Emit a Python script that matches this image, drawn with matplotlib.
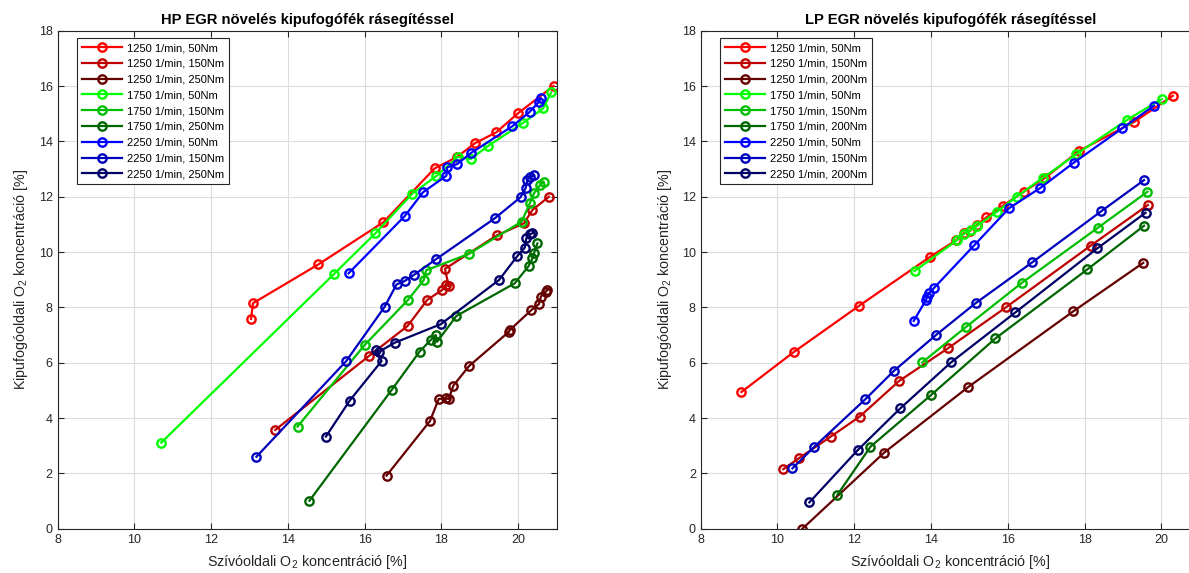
import matplotlib
matplotlib.use('Agg')
import matplotlib.pyplot as plt

plt.rcParams['font.family'] = ['Liberation Sans', 'DejaVu Sans']
plt.rcParams['mathtext.fontset'] = 'custom'
plt.rcParams['mathtext.rm'] = 'Liberation Sans'
plt.rcParams['mathtext.default'] = 'regular'

# ---------------- data: HP EGR (left) ----------------
hp_1250_50_x = [13.04, 13.09, 14.79, 16.49, 17.82, 18.41, 18.87, 19.43, 19.99, 20.92]
hp_1250_50_y = [7.58, 8.15, 9.55, 11.08, 13.02, 13.44, 13.93, 14.33, 15.01, 16.0]
hp_1250_150_x = [13.67, 16.11, 17.12, 17.63, 18.02, 18.11, 18.19, 18.09, 19.44, 20.15, 20.37, 20.80]
hp_1250_150_y = [3.57, 6.24, 7.33, 8.27, 8.63, 8.80, 8.77, 9.39, 10.60, 11.04, 11.52, 12.0]
hp_1250_250_x = [16.57, 17.70, 17.93, 18.11, 18.19, 18.31, 18.72, 19.76, 19.78, 20.34, 20.54, 20.59, 20.72, 20.76]
hp_1250_250_y = [1.92, 3.89, 4.69, 4.71, 4.69, 5.17, 5.88, 7.12, 7.18, 7.90, 8.12, 8.39, 8.57, 8.63]
hp_1750_50_x = [10.70, 15.19, 16.28, 17.24, 17.87, 18.43, 18.76, 19.21, 20.13, 20.65, 20.86]
hp_1750_50_y = [3.11, 9.19, 10.68, 12.11, 12.75, 13.44, 13.36, 13.83, 14.67, 15.19, 15.77]
hp_1750_150_x = [14.25, 16.00, 17.13, 17.54, 17.60, 18.71, 20.09, 20.30, 20.41, 20.57, 20.66]
hp_1750_150_y = [3.69, 6.64, 8.27, 8.99, 9.34, 9.93, 11.10, 11.76, 12.12, 12.42, 12.54]
hp_1750_250_x = [14.56, 16.70, 17.43, 17.72, 17.85, 17.89, 18.39, 19.91, 20.27, 20.37, 20.41, 20.50]
hp_1750_250_y = [1.01, 5.01, 6.40, 6.82, 7.00, 6.76, 7.69, 8.87, 9.49, 9.77, 9.95, 10.31]
hp_2250_50_x = [15.58, 17.05, 17.52, 18.13, 18.15, 18.41, 18.76, 19.85, 20.30, 20.54, 20.59]
hp_2250_50_y = [9.23, 11.31, 12.16, 12.76, 13.06, 13.18, 13.57, 14.55, 15.07, 15.43, 15.55]
hp_2250_150_x = [13.18, 15.52, 16.52, 16.83, 17.04, 17.28, 17.87, 19.39, 20.06, 20.19, 20.24, 20.31, 20.41]
hp_2250_150_y = [2.60, 6.06, 8.02, 8.83, 8.95, 9.17, 9.75, 11.22, 11.98, 12.30, 12.60, 12.70, 12.78]
hp_2250_250_x = [14.99, 15.61, 16.44, 16.30, 16.38, 16.78, 17.98, 19.50, 19.98, 20.17, 20.21, 20.30, 20.37]
hp_2250_250_y = [3.33, 4.63, 6.06, 6.45, 6.40, 6.72, 7.39, 8.99, 9.86, 10.16, 10.49, 10.64, 10.68]

# ---------------- data: LP EGR (right) ----------------
lp_1250_50_x = [9.06, 10.42, 12.13, 13.98, 14.66, 14.85, 15.01, 15.20, 15.44, 15.87, 16.42, 16.98, 17.85, 19.30, 20.30]
lp_1250_50_y = [4.94, 6.38, 8.06, 9.83, 10.43, 10.68, 10.76, 10.98, 11.25, 11.67, 12.18, 12.69, 13.65, 14.71, 15.65]
lp_1250_150_x = [10.15, 10.55, 11.39, 12.14, 13.17, 14.44, 15.95, 18.16, 19.65]
lp_1250_150_y = [2.15, 2.54, 3.33, 4.05, 5.34, 6.52, 8.00, 10.23, 11.70]
lp_1250_200_x = [10.65, 12.78, 14.96, 17.71, 19.53]
lp_1250_200_y = [0.0, 2.75, 5.11, 7.86, 9.61]
lp_1750_50_x = [13.57, 14.68, 14.85, 15.03, 15.20, 15.72, 16.23, 16.92, 17.78, 19.10, 20.01]
lp_1750_50_y = [9.31, 10.43, 10.65, 10.79, 10.95, 11.46, 12.00, 12.69, 13.53, 14.77, 15.53]
lp_1750_150_x = [13.77, 14.91, 16.37, 18.35, 19.64]
lp_1750_150_y = [6.01, 7.29, 8.89, 10.88, 12.18]
lp_1750_200_x = [11.56, 12.42, 14.00, 15.68, 18.07, 19.55]
lp_1750_200_y = [1.22, 2.96, 4.83, 6.88, 9.37, 10.95]
lp_2250_50_x = [13.55, 13.87, 13.90, 13.94, 14.07, 15.13, 16.03, 16.85, 17.72, 18.98, 19.81]
lp_2250_50_y = [7.51, 8.27, 8.39, 8.51, 8.69, 10.25, 11.58, 12.32, 13.23, 14.47, 15.29]
lp_2250_150_x = [10.39, 10.96, 12.29, 13.03, 14.13, 15.16, 16.64, 18.44, 19.55]
lp_2250_150_y = [2.18, 2.96, 4.68, 5.70, 7.00, 8.15, 9.63, 11.48, 12.60]
lp_2250_200_x = [10.83, 12.09, 13.20, 14.52, 16.20, 18.33, 19.59]
lp_2250_200_y = [0.95, 2.84, 4.35, 6.01, 7.82, 10.13, 11.42]

hp_labels = ['1250 1/min, 50Nm', '1250 1/min, 150Nm', '1250 1/min, 250Nm',
             '1750 1/min, 50Nm', '1750 1/min, 150Nm', '1750 1/min, 250Nm',
             '2250 1/min, 50Nm', '2250 1/min, 150Nm', '2250 1/min, 250Nm']
lp_labels = ['1250 1/min, 50Nm', '1250 1/min, 150Nm', '1250 1/min, 200Nm',
             '1750 1/min, 50Nm', '1750 1/min, 150Nm', '1750 1/min, 200Nm',
             '2250 1/min, 50Nm', '2250 1/min, 150Nm', '2250 1/min, 200Nm']
colors = ['#FF0000', '#BF0000', '#660000',
          '#00FF00', '#00BF00', '#006600',
          '#0000FF', '#0000BF', '#000066']

hp_series = [(hp_1250_50_x, hp_1250_50_y), (hp_1250_150_x, hp_1250_150_y), (hp_1250_250_x, hp_1250_250_y),
             (hp_1750_50_x, hp_1750_50_y), (hp_1750_150_x, hp_1750_150_y), (hp_1750_250_x, hp_1750_250_y),
             (hp_2250_50_x, hp_2250_50_y), (hp_2250_150_x, hp_2250_150_y), (hp_2250_250_x, hp_2250_250_y)]
lp_series = [(lp_1250_50_x, lp_1250_50_y), (lp_1250_150_x, lp_1250_150_y), (lp_1250_200_x, lp_1250_200_y),
             (lp_1750_50_x, lp_1750_50_y), (lp_1750_150_x, lp_1750_150_y), (lp_1750_200_x, lp_1750_200_y),
             (lp_2250_50_x, lp_2250_50_y), (lp_2250_150_x, lp_2250_150_y), (lp_2250_200_x, lp_2250_200_y)]

titles = ['HP EGR növelés kipufogófék rásegítéssel', 'LP EGR növelés kipufogófék rásegítéssel']

W, H = 1189, 573
fig = plt.figure(figsize=(W / 100, H / 100), dpi=100)
ax_w, ax_h = 499.0, 498.0
ax1 = fig.add_axes([57.6 / W, 44.3 / H, ax_w / W, ax_h / H])
ax2 = fig.add_axes([700.7 / W, 44.3 / H, ax_w / W, ax_h / H])

tc = '#262626'
for ax, series, labels, title in [(ax1, hp_series, hp_labels, titles[0]),
                                  (ax2, lp_series, lp_labels, titles[1])]:
    for (x, y), c, lab in zip(series, colors, labels):
        ax.plot(x, y, '-o', color=c, lw=1.6, ms=6, mfc='none', mew=1.7, label=lab)
    ax.set_xlim(8, 21)
    ax.set_ylim(0, 18)
    ax.set_xticks(range(8, 21, 2))
    ax.set_yticks(range(0, 19, 2))
    ax.grid(True, color='#dcdcdc', lw=0.8)
    ax.set_axisbelow(True)
    ax.tick_params(direction='in', top=True, right=True, length=4, width=0.8,
                   colors=tc, labelsize=9)
    for s in ax.spines.values():
        s.set_color(tc)
        s.set_linewidth(0.8)
    ax.set_title(title, fontsize=10.6, fontweight='bold', color='black', pad=5)
    ax.set_xlabel('Szívóoldali O$_2$ koncentráció [%]', fontsize=10.3, color=tc, labelpad=5)
    ax.set_ylabel('Kipufogóoldali O$_2$ koncentráció [%]', fontsize=10.3, color=tc, labelpad=6)
    leg = ax.legend(loc='upper left', bbox_to_anchor=(19.7 / ax_w, 1 - 7.3 / ax_h),
                    borderaxespad=0, fontsize=8, handlelength=3.6, handletextpad=0.4,
                    labelspacing=0.52, borderpad=0.45, fancybox=False, framealpha=1)
    leg.get_frame().set_edgecolor('#262626')
    leg.get_frame().set_linewidth(0.8)

fig.savefig('out.png', dpi=100)
